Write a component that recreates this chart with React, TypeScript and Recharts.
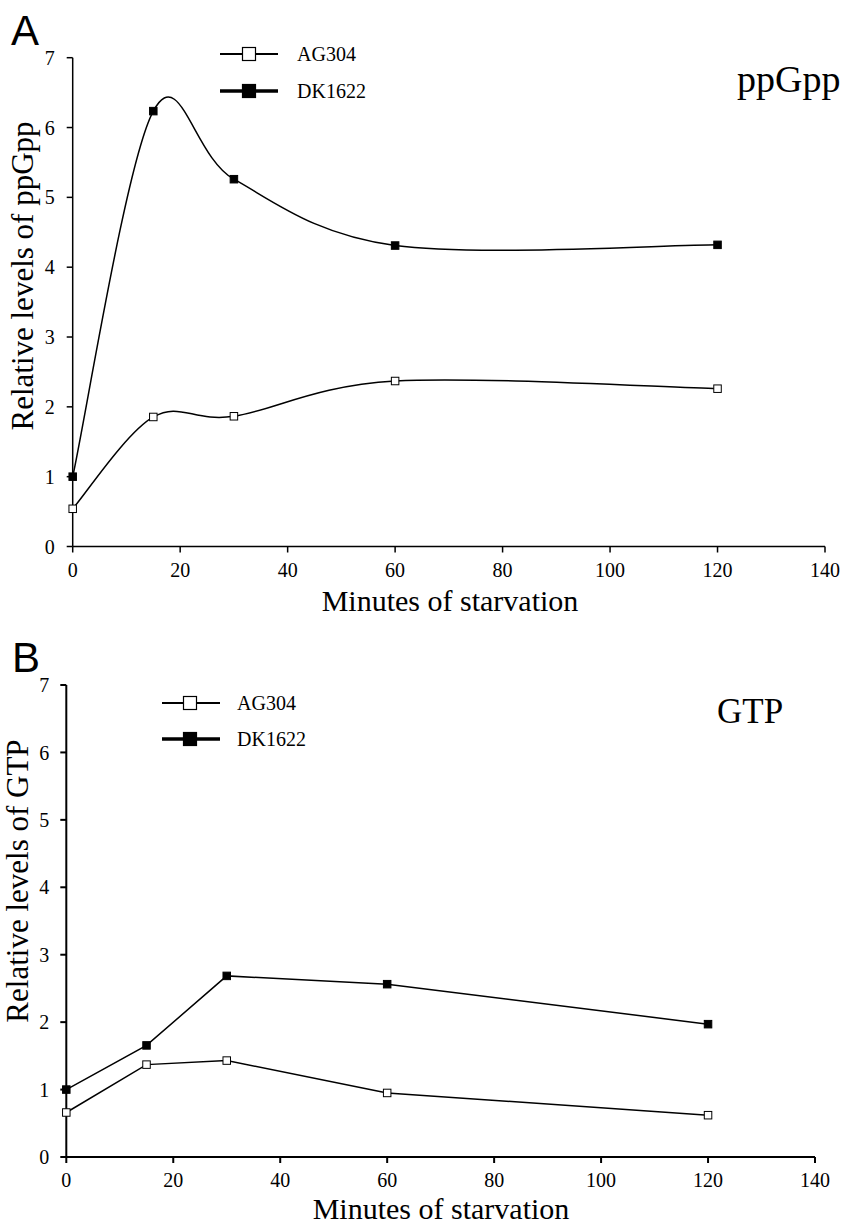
import React from 'react';
import { LineChart, Line, XAxis, YAxis, Legend } from 'recharts';

const minutes = [0, 15, 30, 60, 120];
const xTicks = [0, 20, 40, 60, 80, 100, 120, 140];
const yTicks = [0, 1, 2, 3, 4, 5, 6, 7];
const seriesNames = ['AG304', 'DK1622'];

const ppGppAG304 = [0.54, 1.855, 1.865, 2.37, 2.26];
const ppGppDK1622 = [1.0, 6.235, 5.26, 4.31, 4.32];
const gtpAG304 = [0.66, 1.37, 1.43, 0.95, 0.62];
const gtpDK1622 = [1.0, 1.655, 2.686, 2.563, 1.97];

const buildData = (a: number[], b: number[]) =>
  minutes.map((m, i) => ({ min: m, AG304: a[i], DK1622: b[i] }));

const dataA = buildData(ppGppAG304, ppGppDK1622);
const dataB = buildData(gtpAG304, gtpDK1622);

const SERIF = '"Liberation Serif", "DejaVu Serif", serif';
const SANS = '"Liberation Sans", Arial, sans-serif';

// Excel-like smoothed curve (Catmull-Rom style Bezier)
function smoothCurve(context: any) {
  let pts: number[][] = [];
  return {
    areaStart() {},
    areaEnd() {},
    lineStart() {
      pts = [];
    },
    point(x: number, y: number) {
      pts.push([+x, +y]);
    },
    lineEnd() {
      const n = pts.length;
      if (n === 0) return;
      context.moveTo(pts[0][0], pts[0][1]);
      for (let i = 0; i < n - 1; i++) {
        const p0 = pts[Math.max(0, i - 1)];
        const p1 = pts[i];
        const p2 = pts[i + 1];
        const p3 = pts[Math.min(n - 1, i + 2)];
        context.bezierCurveTo(
          p1[0] + (p2[0] - p0[0]) / 6,
          p1[1] + (p2[1] - p0[1]) / 6,
          p2[0] - (p3[0] - p1[0]) / 6,
          p2[1] - (p3[1] - p1[1]) / 6,
          p2[0],
          p2[1]
        );
      }
    },
  };
}

const makeDot = (filled: boolean, size: number) => (props: any) => {
  const { cx, cy, index } = props;
  if (cx == null || cy == null) return <g key={`d${index}`} />;
  return (
    <rect
      key={`d${index}`}
      x={cx - size / 2}
      y={cy - size / 2}
      width={size}
      height={size}
      fill={filled ? '#000' : '#fff'}
      stroke="#000"
      strokeWidth={1}
    />
  );
};

const XTick = (props: any) => {
  const { x, y, payload } = props;
  return (
    <text x={x} y={y} dy="0.71em" textAnchor="middle" fontFamily={SERIF} fontSize={20} fill="#000">
      {payload.value}
    </text>
  );
};

const YTick = (props: any) => {
  const { x, y, payload } = props;
  return (
    <text x={x} y={y} dy="0.355em" textAnchor="end" fontFamily={SERIF} fontSize={20} fill="#000">
      {payload.value}
    </text>
  );
};

type LegendCfg = { left: number; top: number; x1: number; x2: number; mx: number; tx: number; rows: number[] };

const LegendBox = ({ cfg }: { cfg: LegendCfg }) => (
  <svg width={260} height={90} style={{ display: 'block', overflow: 'visible' }}>
    {seriesNames.map((name, i) => {
      const y = cfg.rows[i] - cfg.top;
      const filled = i === 1;
      const s = 13;
      return (
        <g key={name}>
          <line
            x1={cfg.x1 - cfg.left}
            x2={cfg.x2 - cfg.left}
            y1={y}
            y2={y}
            stroke="#000"
            strokeWidth={filled ? 3.5 : 1.8}
          />
          <rect
            x={cfg.mx - cfg.left - s / 2}
            y={y - s / 2}
            width={s}
            height={s}
            fill={filled ? '#000' : '#fff'}
            stroke="#000"
            strokeWidth={1.2}
          />
          <text x={cfg.tx - cfg.left} y={y + 6.5} fontFamily={SERIF} fontSize={20} fill="#000">
            {name}
          </text>
        </g>
      );
    })}
  </svg>
);

type PanelProps = {
  pageTop: number;
  height: number;
  data: any[];
  margin: { top: number; right: number; left: number; bottom: number };
  yAxisWidth: number;
  xTickMargin: number;
  yTickMargin: number;
  axisStroke: number;
  curve: any;
  dotSize: number;
  legend: LegendCfg;
  letter: string;
  letterPos: [number, number];
  title: string;
  titlePos: [number, number];
  titleSize: number;
  yLabel: string;
  yLabelPos: [number, number];
  xLabelPos: [number, number];
};

const Panel = (p: PanelProps) => {
  return (
    <div style={{ position: 'absolute', left: 0, top: p.pageTop, width: 841, height: p.height }}>
      <LineChart width={841} height={p.height} data={p.data} margin={p.margin}>
        <XAxis
          dataKey="min"
          type="number"
          domain={[0, 140]}
          ticks={xTicks}
          interval={0}
          height={40}
          tickSize={6}
          tickMargin={p.xTickMargin}
          tick={<XTick />}
          axisLine={{ stroke: '#000', strokeWidth: p.axisStroke }}
          tickLine={{ stroke: '#000', strokeWidth: p.axisStroke }}
          allowDecimals={false}
        />
        <YAxis
          type="number"
          domain={[0, 7]}
          ticks={yTicks}
          interval={0}
          width={p.yAxisWidth}
          tickSize={6}
          tickMargin={p.yTickMargin}
          tick={<YTick />}
          axisLine={{ stroke: '#000', strokeWidth: p.axisStroke }}
          tickLine={{ stroke: '#000', strokeWidth: p.axisStroke }}
        />
        <Legend
          layout="horizontal"
          verticalAlign="middle"
          align="center"
          wrapperStyle={{ left: p.legend.left, top: p.legend.top - p.pageTop, width: 260, height: 90 }}
          content={() => <LegendBox cfg={p.legend} />}
        />
        <Line
          dataKey="AG304"
          type={p.curve}
          stroke="#000"
          strokeWidth={1.5}
          dot={makeDot(false, p.dotSize)}
          activeDot={false}
          isAnimationActive={false}
        />
        <Line
          dataKey="DK1622"
          type={p.curve}
          stroke="#000"
          strokeWidth={1.5}
          dot={makeDot(true, p.dotSize)}
          activeDot={false}
          isAnimationActive={false}
        />
        <text x={p.letterPos[0]} y={p.letterPos[1]} fontFamily={SANS} fontSize={42} fill="#000">
          {p.letter}
        </text>
        <text x={p.titlePos[0]} y={p.titlePos[1]} fontFamily={SERIF} fontSize={p.titleSize} fill="#000">
          {p.title}
        </text>
        <text
          x={p.yLabelPos[0]}
          y={p.yLabelPos[1]}
          transform={`rotate(-90 ${p.yLabelPos[0]} ${p.yLabelPos[1]})`}
          textAnchor="middle"
          fontFamily={SERIF}
          fontSize={31}
          fill="#000"
        >
          {p.yLabel}
        </text>
        <text x={p.xLabelPos[0]} y={p.xLabelPos[1]} textAnchor="middle" fontFamily={SERIF} fontSize={30} fill="#000">
          Minutes of starvation
        </text>
      </LineChart>
    </div>
  );
}

export default function App() {
  return (
    <div style={{ position: 'absolute', left: 0, top: 0, width: 841, height: 1225, background: '#fff' }}>
      <Panel
        pageTop={0}
        height={640}
        data={dataA}
        margin={{ top: 57.7, right: 16, left: 0, bottom: 53.5 }}
        yAxisWidth={72.7}
        xTickMargin={10}
        yTickMargin={12}
        axisStroke={1.5}
        curve={smoothCurve}
        dotSize={7.5}
        legend={{ left: 200, top: 30, x1: 220, x2: 278, mx: 249, tx: 297, rows: [54, 91] }}
        letter="A"
        letterPos={[11, 45]}
        title="ppGpp"
        titlePos={[737, 92]}
        titleSize={38}
        yLabel="Relative levels of ppGpp"
        yLabelPos={[33, 276]}
        xLabelPos={[450, 611]}
      />
      <Panel
        pageTop={620}
        height={605}
        data={dataB}
        margin={{ top: 65, right: 26, left: 0, bottom: 28 }}
        yAxisWidth={66.3}
        xTickMargin={10}
        yTickMargin={11}
        axisStroke={2}
        curve="linear"
        dotSize={7.5}
        legend={{ left: 145, top: 675, x1: 162, x2: 220, mx: 190, tx: 237, rows: [703, 739] }}
        letter="B"
        letterPos={[12, 672 - 620]}
        title="GTP"
        titlePos={[717, 723 - 620]}
        titleSize={35}
        yLabel="Relative levels of GTP"
        yLabelPos={[28, 881 - 620]}
        xLabelPos={[441, 1219 - 620]}
      />
    </div>
  );
}
